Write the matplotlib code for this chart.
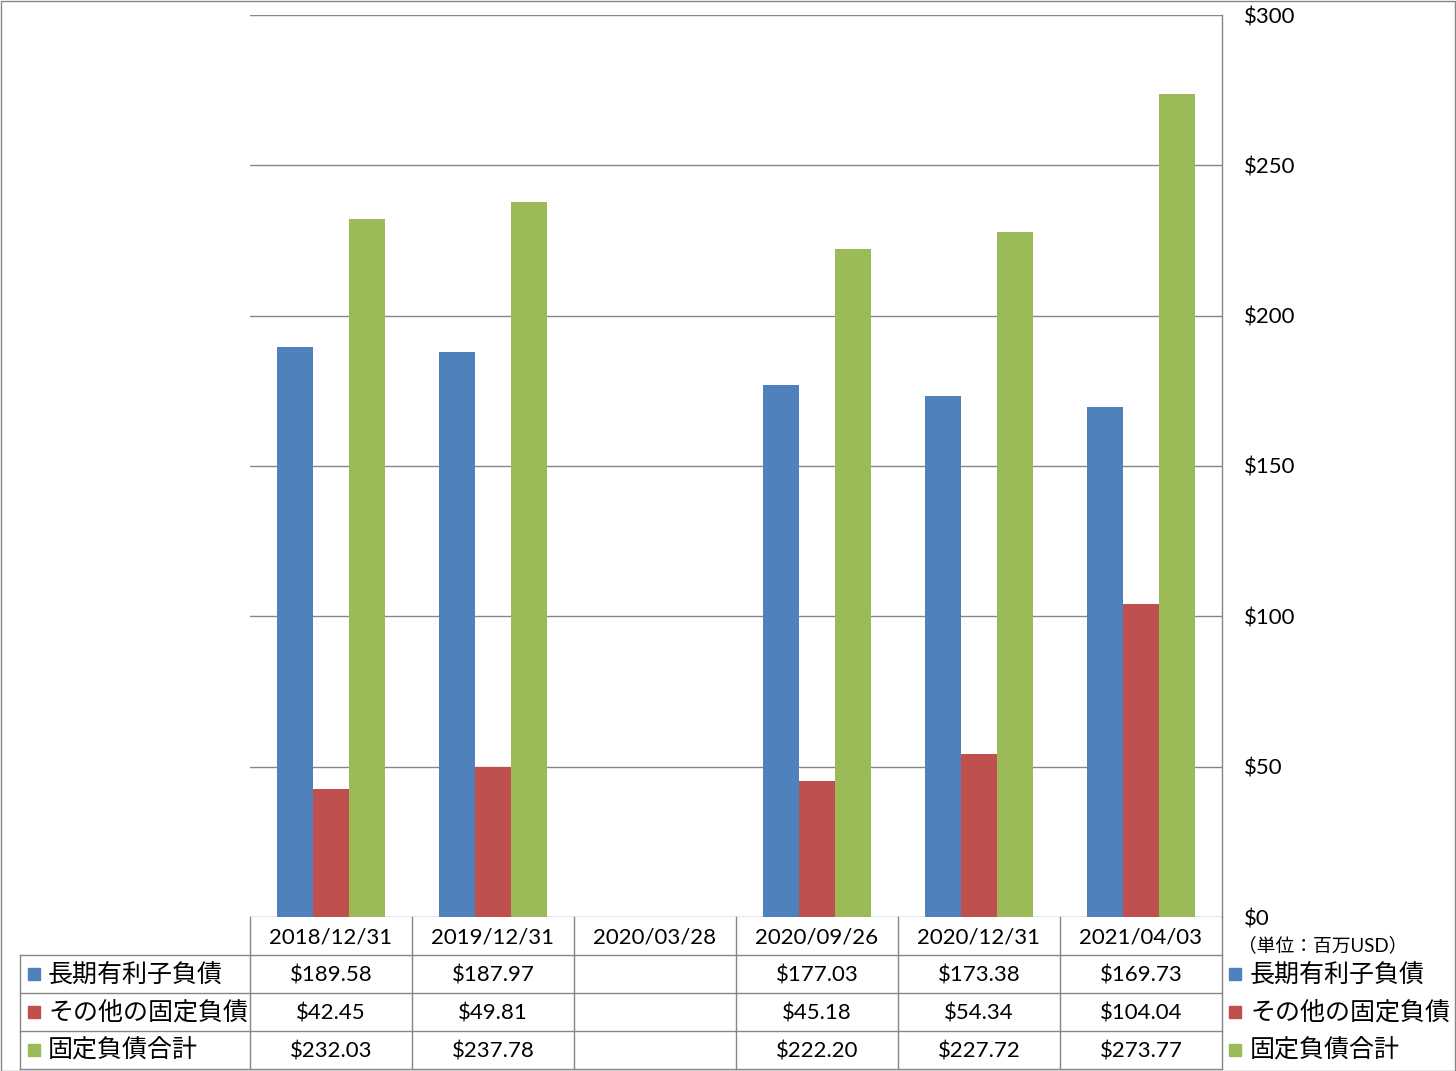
import matplotlib.pyplot as plt
import numpy as np
from matplotlib.patches import Rectangle

# data (百万USD)
dates = ['2018/12/31', '2019/12/31', '2020/03/28', '2020/09/26', '2020/12/31', '2021/04/03']
series = ['長期有利子負債', 'その他の固定負債', '固定負債合計']
long_debt = [189.58, 187.97, np.nan, 177.03, 173.38, 169.73]
other_debt = [42.45, 49.81, np.nan, 45.18, 54.34, 104.04]
total_debt = [232.03, 237.78, np.nan, 222.20, 227.72, 273.77]
colors = ['#4F81BD', '#C0504D', '#9BBB59']
yticks = [0, 50, 100, 150, 200, 250, 300]

FONT = ['Lato', 'Noto Sans CJK JP', 'DejaVu Sans']
plt.rcParams['font.family'] = FONT
GRAY = '#868686'

W, H = 1456, 1071
fig = plt.figure(figsize=(W / 100, H / 100), dpi=100)
# plot area in pixels: x 250..1222, y 15..917
ax = fig.add_axes([250 / W, 1 - 917 / H, 972 / W, 902 / H])

values = [long_debt, other_debt, total_debt]
x = np.arange(len(dates))
bw = 36 / 162
for i, (vals, c) in enumerate(zip(values, colors)):
    ax.bar(x + (i - 1) * bw, vals, bw, color=c, zorder=3)

ax.set_xlim(-0.5, len(dates) - 0.5)
ax.set_ylim(0, 300)
ax.set_yticks(yticks)
ax.set_yticklabels([f'${v}' for v in yticks], fontsize=16)
ax.yaxis.tick_right()
ax.tick_params(axis='y', length=0, pad=15.5)
ax.set_xticks([])
ax.yaxis.grid(True, color=GRAY, linewidth=1)
ax.set_axisbelow(True)
for s in ['left', 'top', 'bottom']:
    ax.spines[s].set_visible(False)
ax.spines['right'].set_color(GRAY)
ax.spines['right'].set_linewidth(1)

# data table below axes
tr = ax.get_xaxis_transform()
rh = 38 / 902
dy = 2 / 902  # nudge text down a little
x_left = -0.5 - 230 / 162
x_right = len(dates) - 0.5
line_kw = dict(color=GRAY, linewidth=1, transform=tr, clip_on=False)
for k in range(len(dates) + 1):
    ax.plot([k - 0.5, k - 0.5], [0, -4 * rh], **line_kw)
ax.plot([x_left, x_left], [-rh, -4 * rh], **line_kw)
for r in range(1, 5):
    ax.plot([x_left, x_right], [-r * rh, -r * rh], **line_kw)

for k, d in enumerate(dates):
    ax.text(k, -0.5 * rh - dy, d, transform=tr, ha='center', va='center', fontsize=16)
for r, (name, vals, c) in enumerate(zip(series, values, colors)):
    yc = -(r + 1.5) * rh
    for k, v in enumerate(vals):
        if not np.isnan(v):
            ax.text(k, yc - dy, f'${v:.2f}', transform=tr, ha='center', va='center',
                    fontsize=16)
    # row label
    ax.plot([-0.5 - 216 / 162], [yc], marker='s', markersize=8, color=c,
            transform=tr, clip_on=False)
    ax.text(-0.5 - 202 / 162, yc, name, transform=tr, ha='left', va='center',
            fontsize=18)
    # legend on the right
    ax.plot([1 + 13 / 972], [yc], marker='s', markersize=8, color=c,
            transform=ax.transAxes, clip_on=False)
    ax.text(1 + 28 / 972, yc, name, transform=ax.transAxes, ha='left', va='center',
            fontsize=18)

ax.text(1 + 16 / 972, -0.75 * rh, '（単位：百万USD）', transform=ax.transAxes,
        ha='left', va='center', fontsize=13.5)

# outer border
fig.patches.append(Rectangle((0.5 / W, 0.5 / H), 1 - 1.5 / W, 1 - 1.5 / H,
                             transform=fig.transFigure, fill=False,
                             edgecolor=GRAY, linewidth=1))

fig.savefig('out.png', dpi=100)
